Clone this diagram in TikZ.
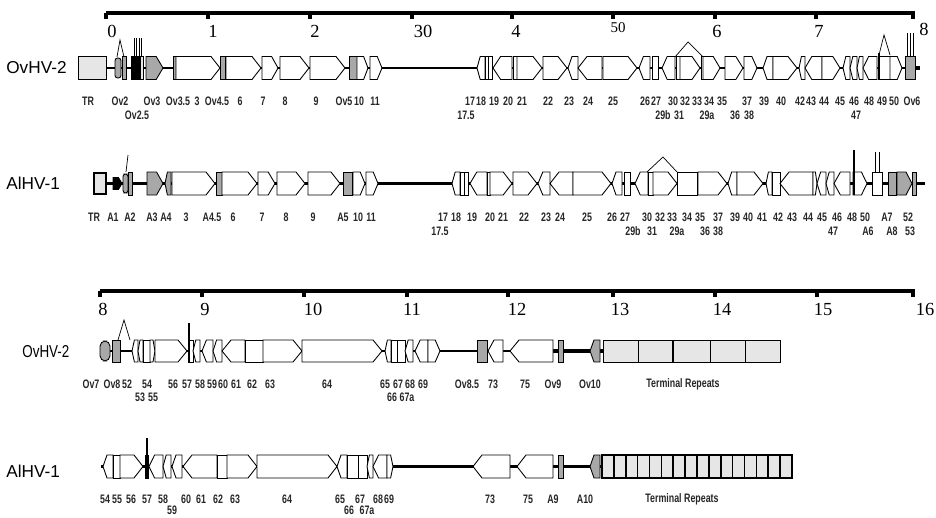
\documentclass[tikz,border=0pt]{standalone}
\usepackage{fontspec}
\setmainfont{Liberation Serif}
\setsansfont{Liberation Sans}
\definecolor{gmid}{HTML}{A8A8A8}
\definecolor{glight}{HTML}{E6E6E6}
\newcommand\sqz[1]{\scalebox{0.72}[1]{#1}}
\tikzset{
 gene/.style={draw=black, line width=0.5pt, fill=white, line join=miter},
 lbl/.style={font=\sffamily\bfseries\fontsize{7}{8}\selectfont, inner sep=0pt, text=black!85},
 rowlbl/.style={font=\sffamily\fontsize{9.8}{11}\selectfont, inner sep=0pt, anchor=west},
 scl/.style={font=\rmfamily\fontsize{10.5}{12}\selectfont, inner sep=0pt},
 sbar/.style={line width=2.4pt},
 bb/.style={line width=1.1pt},
 bbk/.style={line width=2pt},
 spl/.style={line width=0.4pt},
}
\newcommand\gR[3][white]{\pgfmathsetmacro\gTp{min(9,(#3-#2)*0.4)}\filldraw[gene,fill=#1] (#2,{\gY-\gH}) -- ({#3-\gTp},{\gY-\gH}) -- (#3,\gY) -- ({#3-\gTp},{\gY+\gH}) -- (#2,{\gY+\gH}) -- cycle;}
\newcommand\gL[3][white]{\pgfmathsetmacro\gTp{min(9,(#3-#2)*0.4)}\filldraw[gene,fill=#1] (#2,\gY) -- ({#2+\gTp},{\gY-\gH}) -- (#3,{\gY-\gH}) -- (#3,{\gY+\gH}) -- ({#2+\gTp},{\gY+\gH}) -- cycle;}
\newcommand\gB[3][white]{\filldraw[gene,fill=#1] (#2,{\gY-\gH}) rectangle (#3,{\gY+\gH});}
\begin{document}
\begin{tikzpicture}[x=0.02cm,y=-0.02cm]
\useasboundingbox (0,0) rectangle (936,517);
% ---------- scale bar 1 ----------
\draw[sbar] (106,13) -- (915,13);
\foreach \x in {106,208,310,412,512,613,715,816,913}
  \fill (\x-2,13) rectangle (\x+2,19);
\foreach \x/\t in {112/0,213/1,315/2,423/30,516/4,819/7,717/6}
  \node[scl] (s1-\t) at (\x,31) {\t};
\node[scl,font=\rmfamily\fontsize{8.5}{10}\selectfont] (s1-50) at (618,28) {50};
\node[scl] (s1-8) at (924,29) {8};
% ---------- row 1 OvHV-2 ----------
\node[rowlbl] (r1) at (6,68) {OvHV-2};
\def\gY{68}\def\gH{11.5}
\draw[bb] (106,68) -- (919,68);
\gB[glight]{78}{106}
\draw[spl] (117,57) -- (120,40) -- (124,57);
\filldraw[gene,fill=gmid,rounded corners=1.5pt] (115,58) rectangle (121,78);
\gB[gmid]{122}{126}
\foreach \x in {134,136.5,139,141.5} \draw[spl] (\x,57) -- (\x,38);
\gB[black]{131}{140}
\gB[glight]{140}{143}
\gR[gmid]{146}{163}
\gB[gmid]{173}{176}
\gR{176}{220}
\gB[gmid]{220}{225}
\gR{226}{261}
\gR{262}{278}
\gR{280}{309}
\gR{310}{345}
\gB[gmid]{349}{357}
\gR{357}{368}
\gR{370}{382}
\gL{477}{485}
\gB{485}{492}\draw (488.5,56.5) -- (488.5,79.5);
\gL{493}{512}
\gB{513}{517}
\gR{517}{542}
\gR{543}{567}
\gL{568}{578}
\gL{578}{602}
\gR{603}{637}
\gL{639}{650}
\gB{652}{658}
\gL{662}{675}
\gB{676}{680}
\gR{680}{700}
\gB{701}{703}
\gR{703}{720}
\gR{725}{743}
\gR{744}{757}
\gL{763}{773}
\gR{773}{797}
\gL{799}{805}
\gL{805}{822}
\gR{822}{840}
\gL{843}{850}
\gL{850}{857}
\gL{857}{863}
\gL{863}{877}
\gB{879}{890}
\draw[line width=1.3pt] (879,53) -- (879,80);
\gR{890}{902}
\draw[spl] (675,57) -- (688,42) -- (703,57);
\draw[spl] (879,55) -- (884,35) -- (890,55);
\gB[gmid]{905}{915}
\foreach \x in {907,910,913} \draw[spl] (\x,57) -- (\x,33);
\draw[bbk] (915,68) -- (920,68);
% labels row 1
\foreach \x/\t [count=\i] in {88/TR,120/Ov2,152/Ov3,178/Ov3.5,197/3,217/Ov4.5,240/6,263/7,285/8,316/9,344/Ov5,359/10,375/11,470/17,481/18,494/19,508/20,522/21,548/22,569/23,588/24,613/25,645/26,656/27,673/30,685/32,697/33,709/34,722/35,747/37,764/39,781/40,800/42,811/43,824/44,840/45,854/46,869/48,882/49,894/50,912/Ov6}
  \node[lbl] (a\i) at (\x,101) {\sqz{\t}};
\foreach \x/\t [count=\i] in {137/Ov2.5,466/17.5,663/29b,679/31,707/29a,735/36,749/38,856/47}
  \node[lbl] (b\i) at (\x,115) {\sqz{\t}};
% ---------- row 2 AlHV-1 ----------
\node[rowlbl] (r2) at (6,183) {AlHV-1};
\def\gY{183.5}\def\gH{11.5}
\draw[bbk] (106,183.5) -- (925,183.5);
\filldraw[gene,fill=glight,line width=1.4pt] (94,173) rectangle (106,194);
\begingroup\def\gH{6}\gR[black]{113}{122}\endgroup
\draw[spl] (126,172) -- (128,155);
\filldraw[gene,fill=gmid,rounded corners=1.5pt] (123,174) rectangle (128,193);
\gB[gmid]{128}{132}
\gR[gmid]{147}{163}
\gL[gmid]{165}{171}
\gR{172}{215}
\gB[gmid]{216}{222}
\gR{222}{257}
\gR{258}{275}
\gR{277}{305}
\gR{308}{340}
\gB[gmid]{343}{352}
\gR{353}{365}
\gR{366}{378}
\gL{452}{460}
\gB{460}{468}\draw (464,172) -- (464,195);
\gL{470}{487}
\gB{487}{490}
\gR{490}{512}
\gR{513}{537}
\gL{538}{550}
\gL{550}{573}
\gR{573}{611}
\gL{612}{622}
\gB{624}{630}
\gL{635}{648}
\gB{648}{653}
\gR{653}{677}
\gB{677}{697}
\gR{698}{727}
\gL{728}{737}
\gR{737}{763}
\gL{766}{772}
\gB{772}{780}
\gL{780}{813}
\gR{813}{817}
\gL{817}{826}
\gL{826}{834}
\gL{834}{850}
\gR{853}{867}
\draw[line width=0.8pt] (854,150) -- (854,195);
\gB{872}{882}
\draw[spl] (875,152) -- (875,172) (879,152) -- (879,172);
\gB[gmid]{888}{896}
\gR[gmid]{897}{912}
\gB[gmid]{912}{916}
\draw[spl] (647,172) -- (663,157) -- (677,172);
% labels row 2
\foreach \x/\t [count=\i] in {94/TR,113/A1,130/A2,152/A3,166/A4,186/3,212/A4.5,233/6,262/7,286/8,313/9,343/A5,358/10,371/11,443/17,456/18,472/19,490/20,503/21,524/22,546/23,560/24,587/25,612/26,625/27,647/30,660/32,672/33,687/34,700/35,718/37,735/39,748/40,762/41,778/42,792/43,808/44,822/45,837/46,852/48,865/50,887/A7,908/52}
  \node[lbl] (c\i) at (\x,217) {\sqz{\t}};
\foreach \x/\t [count=\i] in {440/17.5,633/29b,652/31,677/29a,705/36,718/38,833/47,868/A6,892/A8,910/53}
  \node[lbl] (d\i) at (\x,231) {\sqz{\t}};
% ---------- scale bar 2 ----------
\draw[line width=2.8pt] (100,291) -- (508,291);
\draw[sbar] (508,291) -- (915,291);
\foreach \x in {100,202,304,407,508,613,715,817,913}
  \fill (\x-2,291) rectangle (\x+2,297);
\foreach \x/\t in {103/8,205/9,313/10,412/11,517/12,620/13,722/14,823/15,925/16}
  \node[scl] (s2-\t) at (\x,309) {\t};
% ---------- row 3 OvHV-2 ----------
\node[rowlbl] (r3) at (22,352) {\scalebox{0.78}[1]{OvHV-2}};
\def\gY{351}\def\gH{11}
\draw[bb] (104,351) -- (603,351);
\draw[bbk] (553,351) -- (603,351);
\filldraw[gene,fill=gmid,rounded corners=3pt] (100,341) rectangle (110,361);
\gB[gmid]{112}{120}
\draw[spl] (120,340) -- (120,362);
\draw[spl] (118,340) -- (124,320) -- (130,340);
\gL{132}{138}
\gL{138}{143}
\gB{143}{150}
\gR{150}{155}
\gR{155}{187}
\gB{188}{193}
\draw[line width=0.8pt] (189,323) -- (189,362);
\gL{193}{200}
\gL{202}{213}
\gL{213}{222}
\gL{222}{245}
\gB{245}{263}
\gR{263}{302}
\gR{302}{382}
\gL{385}{391}
\gB{391}{397}
\gB{397}{405}
\gL{405}{413}
\gL{415}{428}
\gR{428}{440}
\gB[gmid]{477}{487}
\gL{488}{503}
\gL{510}{553}
\gB[gmid]{558}{563}
\gL[gmid]{590}{600}
\foreach \a/\b in {603/638,638/673,673/710,710/745,745/780}
  \filldraw[gene,fill=glight] (\a,340) rectangle (\b,362);
\draw[line width=1pt] (673,340) -- (673,362);
\foreach \x/\t [count=\i] in {91/Ov7,112/Ov8,127/52,147/54,173/56,187/57,200/58,212/59,223/60,236/61,252/62,270/63,327/64,385/65,398/67,410/68,423/69,467/Ov8.5,493/73,525/75,553/Ov9,590/Ov10}
  \node[lbl] (e\i) at (\x,384) {\sqz{\t}};
\node[lbl] (e-tr) at (683,384) {\sqz{Terminal Repeats}};
\foreach \x/\t [count=\i] in {140/53,153/55,392/66,407/67a}
  \node[lbl] (f\i) at (\x,397) {\sqz{\t}};
% ---------- row 4 AlHV-1 ----------
\node[rowlbl] (r4) at (6,471) {AlHV-1};
\def\gY{466.5}\def\gH{11.5}
\draw[bbk] (101,466.5) -- (602,466.5);
\gL{103}{113}
\gB{113}{120}
\gR{120}{143}
\gB{145}{148}
\draw[line width=1.2pt] (147,438) -- (147,478);
\gL{149}{163}
\gL{163}{171}
\gL{172}{182}
\gL{183}{217}
\gB{217}{227}
\gR{227}{257}
\gR{257}{337}
\gL{337}{347}
\gB{347}{358}
\gB{358}{367}
\gL{367}{373}
\gL{373}{387}
\gR{387}{393}
\gL{473}{510}
\gL{517}{553}
\gB[gmid]{558}{563}
\gL[gmid]{590}{600}
\filldraw[gene,fill=glight,line width=1.4pt] (602,455) rectangle (792,478);
\foreach \i in {1,...,15} \draw[line width=0.9pt] ({602+\i*190/16},455) -- ({602+\i*190/16},478);
\foreach \x/\t [count=\i] in {105/54,117/55,131/56,147/57,163/58,186/60,201/61,218/62,235/63,287/64,340/65,360/67,378/68,389/69,490/73,528/75,553/A9,585/A10}
  \node[lbl] (g\i) at (\x,499) {\sqz{\t}};
\node[lbl] (g-tr) at (682,499) {\sqz{Terminal Repeats}};
\foreach \x/\t [count=\i] in {172/59,349/66,367/67a}
  \node[lbl] (h\i) at (\x,510) {\sqz{\t}};
\end{tikzpicture}
\end{document}
